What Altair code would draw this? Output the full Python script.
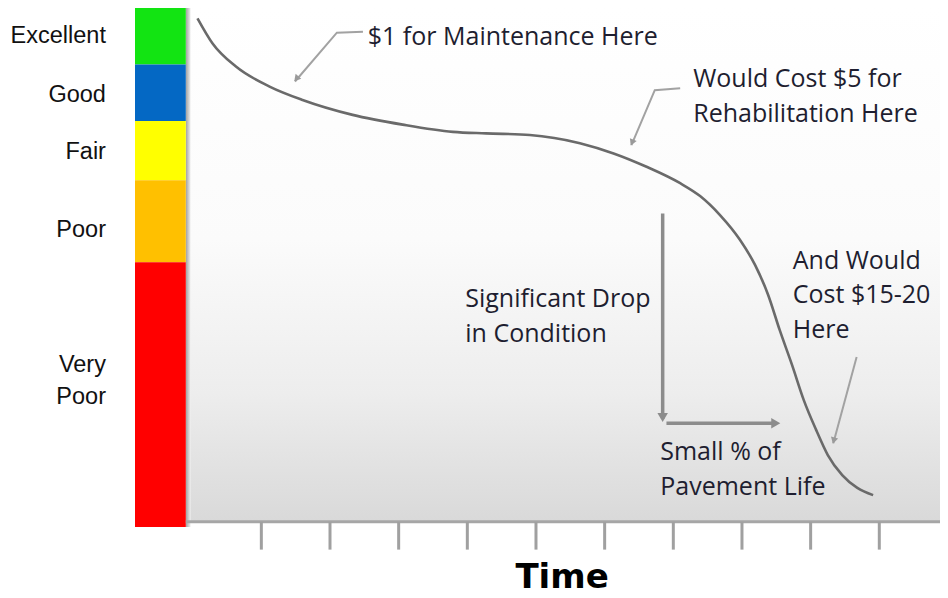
import altair as alt
import pandas as pd

# ---- condition scale (colour bar) ----
conditions = ["Excellent", "Good", "Fair", "Poor", "Very\nPoor"]
band_top = [100, 89, 78, 66.5, 50.5]
band_bottom = [89, 78, 66.5, 50.5, -1]
band_colors = ["#12e412", "#0468c4", "#ffff00", "#ffc000", "#ff0000"]
label_y = [93.2, 81.8, 70.6, 55.4, 29.2]

# ---- pavement condition curve ----
time = [0.07, 0.29, 0.63, 1.12, 1.60, 2.33, 3.06, 3.79, 4.27, 4.91, 5.64, 6.13,
        6.61, 7.10, 7.39, 7.68, 7.97, 8.19, 8.38, 8.55, 8.73, 8.90, 9.08, 9.25,
        9.46, 9.68, 9.91]
condition = [98.0, 93.1, 88.6, 84.7, 82.1, 79.2, 77.3, 75.9, 75.6, 75.3, 73.7, 71.7,
             69.1, 65.9, 63.4, 59.7, 54.9, 50.0, 44.2, 37.3, 30.5, 23.7, 17.9, 13.0,
             9.1, 6.6, 5.2]

# ---- time axis ticks ----
tick_times = [1, 2, 3, 4, 5, 6, 7, 8, 9, 10]

# ---- annotations ----
ann_text = ["$1 for Maintenance Here", "Would Cost $5 for\nRehabilitation Here",
            "Significant Drop\nin Condition", "And Would\nCost $15-20\nHere",
            "Small % of\nPavement Life"]
ann_t = [2.55, 7.29, 3.97, 8.74, 6.81]
ann_v = [92.8, 84.6, 41.8, 49.3, 12.0]

# pointer polylines (id, time, condition)
ptr_id = [1, 1, 1, 2, 2, 2, 3, 3]
ptr_t = [2.48, 2.10, 1.49, 7.10, 6.73, 6.39, 9.67, 9.33]
ptr_v = [95.4, 95.2, 85.7, 84.4, 84.0, 73.3, 32.1, 15.3]
head_t = [1.52, 6.405, 9.34]
head_v = [86.4, 74.0, 16.0]
head_angle = [220, 203, 195]

# big L arrow
big_id = [1, 1, 2, 2]
big_t = [6.845, 6.845, 6.90, 8.45]
big_v = [60.0, 20.0, 19.2, 19.2]
bighead_t = [6.845, 8.47]
bighead_v = [20.6, 19.2]
bighead_angle = [180, 90]

X_MAX = 10.884
xs = alt.Scale(domain=[-0.84, X_MAX], nice=False, zero=False)
ys = alt.Scale(domain=[-1, 100], nice=False, zero=False)

def X(f):
    return alt.X(f, type="quantitative", scale=xs, axis=None)

def Y(f):
    return alt.Y(f, type="quantitative", scale=ys, axis=None)

bg_df = pd.DataFrame({"x": [-0.1], "x2": [X_MAX], "y": [0], "y2": [100]})
grad = {"gradient": "linear", "x1": 0, "y1": 0, "x2": 0, "y2": 1,
        "stops": [{"offset": 0, "color": "#ffffff"},
                  {"offset": 0.45, "color": "#fbfbfb"},
                  {"offset": 0.75, "color": "#ededed"},
                  {"offset": 1, "color": "#d9d9d9"}]}
bg = alt.Chart(bg_df).mark_rect(fill=grad).encode(
    x=X("x"), x2="x2", y=Y("y"), y2="y2")

shadow_df = pd.DataFrame({"x": [-0.1], "x2": [-0.03], "y": [-1], "y2": [100]})
sgrad = {"gradient": "linear", "x1": 0, "y1": 0, "x2": 1, "y2": 0,
         "stops": [{"offset": 0, "color": "#a0a0a0"},
                   {"offset": 1, "color": "#f0f0f0"}]}
shadow = alt.Chart(shadow_df).mark_rect(fill=sgrad).encode(
    x=X("x"), x2="x2", y=Y("y"), y2="y2")

band_df = pd.DataFrame({"cond": conditions, "top": band_top, "bottom": band_bottom,
                        "color": band_colors, "x": -0.84, "x2": -0.1, "ly": label_y,
                        "lx": -1.263})
bands = alt.Chart(band_df).mark_rect().encode(
    x=X("x"), x2="x2", y=Y("bottom"), y2="top",
    color=alt.Color("color:N", scale=None))
labels = alt.Chart(band_df).mark_text(
    align="right", baseline="alphabetic", font="Liberation Sans", fontSize=23.5,
    color="#111111", lineBreak="\n", lineHeight=32).encode(
    x=X("lx"), y=Y("ly"), text="cond:N")

base_df = pd.DataFrame({"x": [-0.1], "x2": [X_MAX], "y": [0]})
baseline = alt.Chart(base_df).mark_rule(color="#a6a6a6", strokeWidth=3).encode(
    x=X("x"), x2="x2", y=Y("y"))

tick_df = pd.DataFrame({"t": tick_times, "y": 0, "y2": -5.4})
ticks = alt.Chart(tick_df).mark_rule(color="#a0a0a0", strokeWidth=3).encode(
    x=X("t"), y=Y("y"), y2="y2")

curve_df = pd.DataFrame({"t": time, "c": condition})
curve = alt.Chart(curve_df).mark_line(
    color="#6a6a6a", strokeWidth=2.6, interpolate="monotone").encode(
    x=X("t"), y=Y("c"))

ann_df = pd.DataFrame({"text": ann_text, "t": ann_t, "v": ann_v})
anns = alt.Chart(ann_df).mark_text(
    align="left", baseline="alphabetic", font="Open Sans", fontSize=25,
    color="#1e1e30", lineBreak="\n", lineHeight=34.5).encode(
    x=X("t"), y=Y("v"), text="text:N")

ptr_df = pd.DataFrame({"id": ptr_id, "t": ptr_t, "v": ptr_v,
                       "o": list(range(len(ptr_id)))})
pointers = alt.Chart(ptr_df).mark_line(color="#a2a2a2", strokeWidth=2).encode(
    x=X("t"), y=Y("v"), detail="id:N", order="o:Q")

heads = []
for t, v, a in zip(head_t, head_v, head_angle):
    heads.append(alt.Chart(pd.DataFrame({"t": [t], "v": [v]})).mark_point(
        shape="triangle", filled=True, size=55, angle=a, color="#9a9a9a",
        opacity=1).encode(x=X("t"), y=Y("v")))

big_df = pd.DataFrame({"id": big_id, "t": big_t, "v": big_v,
                       "o": list(range(len(big_id)))})
bigarrows = alt.Chart(big_df).mark_line(color="#8c8c8c", strokeWidth=3.5).encode(
    x=X("t"), y=Y("v"), detail="id:N", order="o:Q")
for t, v, a in zip(bighead_t, bighead_v, bighead_angle):
    heads.append(alt.Chart(pd.DataFrame({"t": [t], "v": [v]})).mark_point(
        shape="triangle", filled=True, size=110, angle=a, color="#8c8c8c",
        opacity=1).encode(x=X("t"), y=Y("v")))

time_df = pd.DataFrame({"t": [5.38], "v": [-12.9], "text": ["Time"]})
time_lbl = alt.Chart(time_df).mark_text(
    align="center", baseline="alphabetic", font="DejaVu Sans", fontWeight="bold",
    fontSize=34, color="#000000").encode(x=X("t"), y=Y("v"), text="text:N")

chart = alt.layer(bg, shadow, bands, labels, baseline, ticks, curve, anns,
                  pointers, bigarrows, *heads, time_lbl).properties(
    width=805, height=519,
    autosize=alt.AutoSizeParams(type="none"),
    padding={"left": 127, "top": 0, "right": 0, "bottom": 63},
    background="#ffffff",
).configure_view(stroke=None)

chart.save("out.html", embed_options={"renderer": "svg", "actions": False})
